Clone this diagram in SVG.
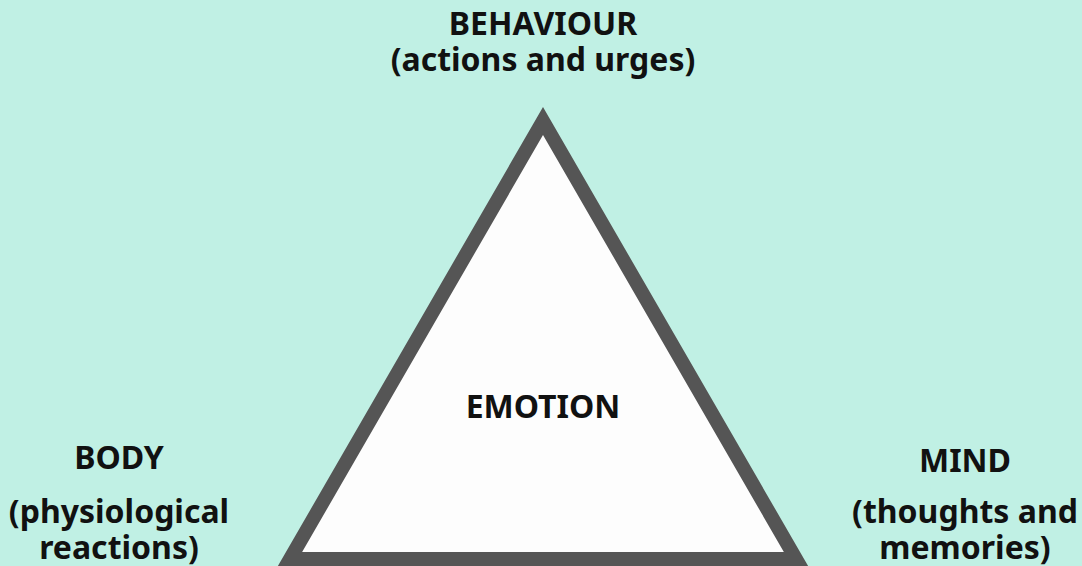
<svg xmlns="http://www.w3.org/2000/svg" width="1082" height="566" viewBox="0 0 1082 566">
<style>
text{font-family:"Noto Sans","Open Sans","DejaVu Sans",sans-serif;font-weight:bold;font-size:32px;fill:#111;text-anchor:middle}
</style>
<rect width="1082" height="566" fill="#c0f0e4"/>
<g id="triangle">
<polygon points="543,121 796,559 290,559" fill="#fdfdfd" stroke="#555555" stroke-width="14" stroke-linejoin="miter" stroke-miterlimit="10"/>
</g>
<g id="emotion"><text x="543" y="418">EMOTION</text></g>
<g id="behaviour"><text x="543" y="35">BEHAVIOUR</text><text x="543" y="71">(actions and urges)</text></g>
<g id="body"><text x="119" y="469">BODY</text><text x="119" y="523">(physiological</text><text x="119" y="559">reactions)</text></g>
<g id="mind"><text x="965" y="472">MIND</text><text x="965" y="523">(thoughts and</text><text x="965" y="559">memories)</text></g>
<g id="connectors"></g>
</svg>
